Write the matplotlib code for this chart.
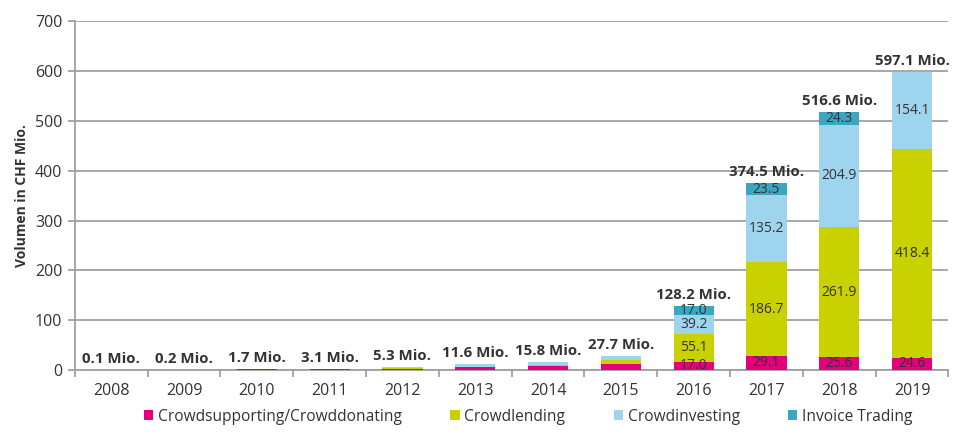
import matplotlib.pyplot as plt
import numpy as np

plt.rcParams['font.family'] = ['Open Sans', 'DejaVu Sans']

# Data (CHF Mio.)
years = ["2008", "2009", "2010", "2011", "2012", "2013", "2014", "2015",
         "2016", "2017", "2018", "2019"]
crowdsupporting = [0.1, 0.2, 1.7, 3.1, 3.0, 5.5, 8.0, 11.5, 17.0, 29.1, 25.6, 24.6]
crowdlending = [0.0, 0.0, 0.0, 0.0, 1.0, 0.5, 3.0, 8.0, 55.1, 186.7, 261.9, 418.4]
crowdinvesting = [0.0, 0.0, 0.0, 0.0, 1.3, 5.6, 4.8, 8.2, 39.2, 135.2, 204.9, 154.1]
invoice_trading = [0.0, 0.0, 0.0, 0.0, 0.0, 0.0, 0.0, 0.0, 17.0, 23.5, 24.3, 0.0]
totals = [0.1, 0.2, 1.7, 3.1, 5.3, 11.6, 15.8, 27.7, 128.2, 374.5, 516.6, 597.1]

series = [
    ("Crowdsupporting/Crowddonating", crowdsupporting, "#E4007C"),
    ("Crowdlending", crowdlending, "#C9D200"),
    ("Crowdinvesting", crowdinvesting, "#9FD4EF"),
    ("Invoice Trading", invoice_trading, "#3AA6C1"),
]

text_col = "#333333"
x = np.arange(len(years))
width = 0.55

fig = plt.figure(figsize=(9.6, 4.38), dpi=100)
ax = fig.add_axes([0.078, 0.155, 0.91, 0.797])

bottom = np.zeros(len(years))
for name, vals, col in series:
    vals = np.array(vals)
    ax.bar(x, vals, width, bottom=bottom, color=col, label=name, zorder=3)
    # value labels inside the bigger bars
    for i in range(len(years)):
        if i >= 8 and vals[i] > 0:
            ax.text(x[i], bottom[i] + vals[i] / 2, f"{vals[i]:.1f}",
                    ha="center", va="center", fontsize=10, color=text_col, zorder=4)
    bottom += vals

for i, t in enumerate(totals):
    ax.text(x[i], t + 8, f"{t:.1f} Mio.", ha="center", va="bottom",
            fontsize=10.8, fontweight="bold", color=text_col, zorder=4)

ax.set_xlim(-0.5, len(years) - 0.5)
ax.set_ylim(0, 700)
ax.set_yticks(np.arange(0, 701, 100))
ax.yaxis.grid(True, color="#a0a0a0", linewidth=1.3, zorder=0)
ax.set_axisbelow(True)

ax.set_xticks(x)
ax.set_xticklabels(years)
ax.set_xticks(np.arange(-0.5, len(years), 1), minor=True)
ax.tick_params(axis="x", which="major", length=0, pad=9, labelsize=11.5, colors=text_col)
ax.tick_params(axis="x", which="minor", length=5, width=1.3, color="#a0a0a0")
ax.tick_params(axis="y", length=5, width=1.3, color="#a0a0a0", labelsize=11.5,
               labelcolor=text_col, pad=4)

for s in ["top", "right"]:
    ax.spines[s].set_visible(False)
ax.spines["left"].set_color("#a0a0a0")
ax.spines["left"].set_linewidth(1.3)
ax.spines["bottom"].set_color("#a0a0a0")
ax.spines["bottom"].set_linewidth(1.3)

ax.set_ylabel("Volumen in CHF Mio.", fontsize=10, fontweight="bold", color=text_col)

ax.legend(loc="upper center", bbox_to_anchor=(0.519, -0.07), ncol=4, frameon=False,
          fontsize=11.2, handlelength=0.6, handleheight=0.6, handletextpad=0.3,
          columnspacing=3.1, labelcolor=text_col)

fig.savefig("out.png", dpi=100)
